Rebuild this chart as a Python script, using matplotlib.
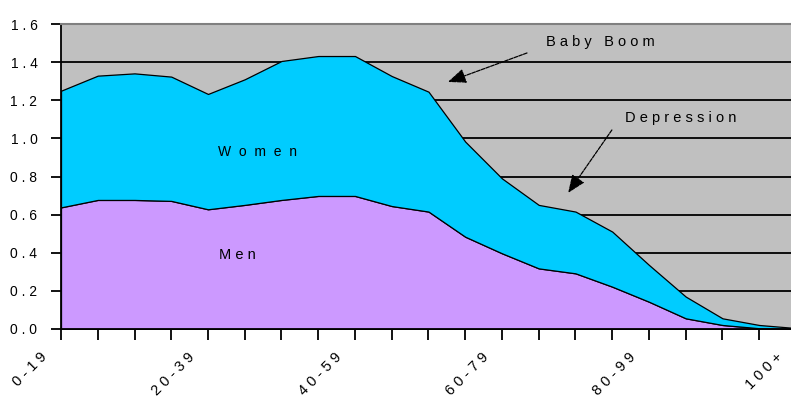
import numpy as np
import matplotlib
matplotlib.use("Agg")
import matplotlib.pyplot as plt
import matplotlib.transforms as mtransforms

plt.rcParams['font.family'] = ['Liberation Sans', 'DejaVu Sans']

# population by 5-year age step (millions), 0 .. 100+
age_steps = np.arange(21)
men = [0.638, 0.677, 0.677, 0.672, 0.628, 0.651, 0.677, 0.698, 0.698, 0.645,
       0.616, 0.484, 0.397, 0.318, 0.292, 0.222, 0.143, 0.056, 0.021, 0.004, 0.001]
women = [0.612, 0.652, 0.664, 0.652, 0.605, 0.659, 0.729, 0.734, 0.734, 0.682,
         0.629, 0.499, 0.393, 0.333, 0.324, 0.289, 0.193, 0.114, 0.035, 0.017, 0.004]
age_labels = ["0-19", "20-39", "40-59", "60-79", "80-99", "100+"]
age_label_pos = [0, 4, 8, 12, 16, 20]
y_ticks = [0.0, 0.2, 0.4, 0.6, 0.8, 1.0, 1.2, 1.4, 1.6]


def spaced(s):
    return " ".join(s)


fig = plt.figure(figsize=(7.91, 3.99), dpi=100)
# right edge runs past the figure so the last category sits just off-canvas
ax = fig.add_axes([61 / 791, 70 / 399, 735 / 791, 305 / 399])
ax.set_facecolor("#C0C0C0")

for yv in y_ticks[1:-1]:
    ax.axhline(yv, color="black", lw=1.3, zorder=0.5)

ax.stackplot(age_steps, men, women, colors=["#CC99FF", "#00CCFF"],
             edgecolor="black", linewidth=0.9, zorder=1)

ax.set_xlim(0, 20)
ax.set_ylim(0, 1.6)

ax.set_yticks(y_ticks)
ax.set_yticklabels([spaced(f"{v:.1f}") for v in y_ticks], fontsize=10)
ax.set_xticks(age_steps)
ax.set_xticklabels([spaced(age_labels[age_label_pos.index(i)]) if i in age_label_pos else ""
                    for i in age_steps],
                   rotation=45, ha="right", va="top", rotation_mode="anchor", fontsize=10.5)
ax.tick_params(axis="y", direction="out", length=7, width=1.3, pad=10)
ax.tick_params(axis="x", direction="out", length=8, width=1.3, pad=4)

# shift the slanted category labels left of their ticks
shift = mtransforms.ScaledTranslation(-0.21, -0.045, fig.dpi_scale_trans)
for lbl in ax.get_xticklabels():
    lbl.set_transform(lbl.get_transform() + shift)

ax.spines["left"].set_linewidth(1.3)
ax.spines["bottom"].set_linewidth(1.3)
ax.spines["top"].set_color("#808080")
ax.spines["top"].set_linewidth(1.5)
ax.spines["right"].set_visible(False)

ax.text(4.27, 0.93, "W  o  m  e  n", fontsize=10, va="center", ha="left", zorder=3)
ax.text(4.30, 0.39, spaced("Men"), fontsize=10.5, va="center", ha="left", zorder=3)

arrow = dict(arrowstyle="-|>,head_length=1.1,head_width=0.45", color="black",
             lw=0.9, linestyle=(0, (3, 1)), shrinkA=0, shrinkB=0)
ax.annotate("", xy=(10.53, 1.296), xytext=(12.68, 1.448), arrowprops=arrow, zorder=3)
ax.annotate("", xy=(13.80, 0.714), xytext=(14.99, 1.044), arrowprops=arrow, zorder=3)
ax.text(13.2, 1.506, spaced("Baby Boom"), fontsize=10.5, va="center", ha="left", zorder=3)
ax.text(15.35, 1.107, spaced("Depression"), fontsize=10.5, va="center", ha="left", zorder=3)

fig.savefig("out.png", dpi=100)
